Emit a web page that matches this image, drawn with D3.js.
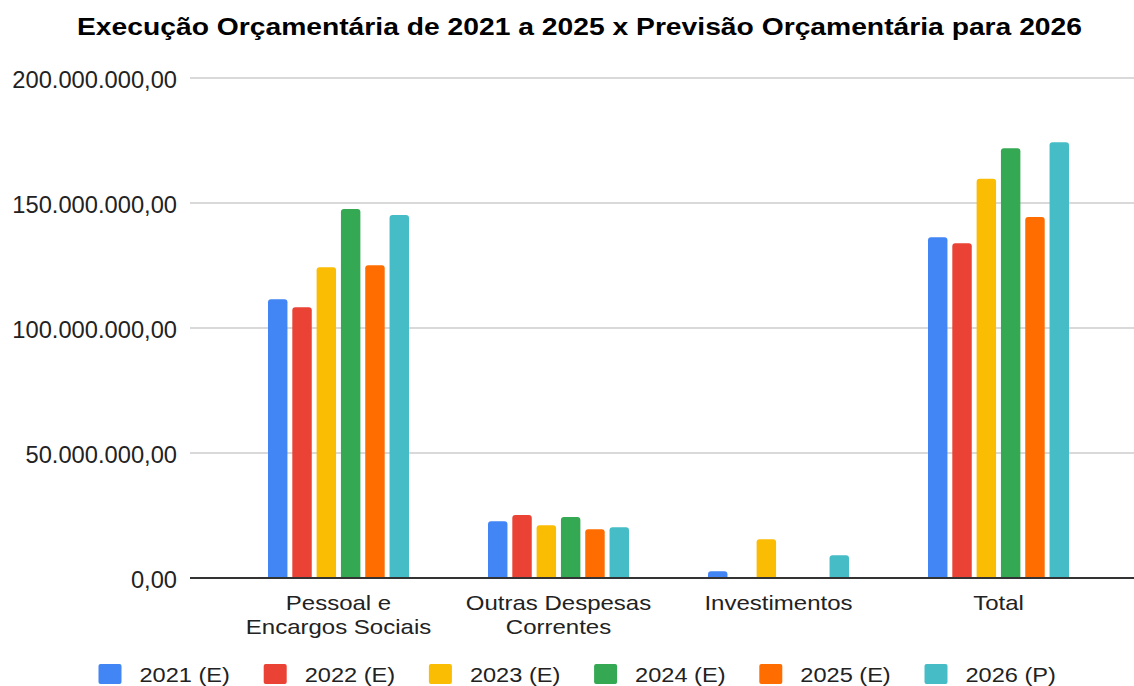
<!DOCTYPE html>
<html><head><meta charset="utf-8">
<script src="https://cdn.jsdelivr.net/npm/d3@7"></script>
<style>body{margin:0;background:#fff}svg{display:block;font-family:"Liberation Sans",Arial,sans-serif}</style>
</head><body><svg id="c" width="1134" height="686"></svg>
<script>
const categories = [["Pessoal e","Encargos Sociais"],["Outras Despesas","Correntes"],["Investimentos"],["Total"]];
const series = ["2021 (E)","2022 (E)","2023 (E)","2024 (E)","2025 (E)","2026 (P)"];
const colors = ["#4285F4","#EA4335","#FBBC04","#34A853","#FF6D01","#46BDC6"];
const v2021 = [111.5e6, 22.7e6, 2.7e6, 136.3e6];
const v2022 = [108.3e6, 25.2e6, 0, 133.9e6];
const v2023 = [124.3e6, 21.1e6, 15.5e6, 159.7e6];
const v2024 = [147.6e6, 24.4e6, 0, 171.9e6];
const v2025 = [125.1e6, 19.5e6, 0, 144.4e6];
const v2026 = [145.2e6, 20.3e6, 9.1e6, 174.3e6];
const values = [v2021,v2022,v2023,v2024,v2025,v2026];
const yTicks = [0,50e6,100e6,150e6,200e6];

const svg = d3.select("#c");
const y = d3.scaleLinear().domain([0,200e6]).range([578,78]);
const x0 = d3.scaleBand().domain(d3.range(categories.length)).range([228.5,1108.5]).padding(0);
const x1 = d3.scaleBand().domain(d3.range(series.length)).range([39.5,180.5]).paddingInner(0.2).paddingOuter(0);
const fmt = v => d3.format(",.2f")(v).replace(/,/g,"#").replace(".",",").replace(/#/g,".");

svg.append("text").attr("x",579.5).attr("y",34.5).attr("text-anchor","middle")
  .attr("font-weight","bold").attr("font-size",23).attr("fill","#000")
  .attr("textLength",1005).attr("lengthAdjust","spacingAndGlyphs")
  .text("Execução Orçamentária de 2021 a 2025 x Previsão Orçamentária para 2026");

const g = svg.append("g");
yTicks.forEach(t=>{
  if(t>0) g.append("line").attr("x1",190).attr("x2",1134).attr("y1",y(t)).attr("y2",y(t)).attr("stroke","#ccc").attr("stroke-width",1.5);
  g.append("text").attr("x",177).attr("y",y(t)+9.5).attr("text-anchor","end").attr("font-size",23.7).attr("fill","#222").text(fmt(t));
});

function barPath(x,yt,w,h,r){
  if(h<=0) return "";
  r=Math.min(r,h,w/2);
  const yb=yt+h;
  return `M${x},${yb}V${yt+r}Q${x},${yt} ${x+r},${yt}H${x+w-r}Q${x+w},${yt} ${x+w},${yt+r}V${yb}Z`;
}
values.forEach((arr,si)=>{
  g.selectAll(null).data(arr).enter().append("path")
    .attr("fill",colors[si])
    .attr("d",(d,ci)=>barPath(x0(ci)+x1(si), y(d), x1.bandwidth(), y(0)-y(d), 3));
});
g.append("line").attr("x1",190).attr("x2",1134).attr("y1",y(0)).attr("y2",y(0)).attr("stroke","#333").attr("stroke-width",2);

categories.forEach((lines,ci)=>{
  const cx = x0(ci)+x0.bandwidth()/2;
  lines.forEach((l,li)=>{
    const t = svg.append("text").attr("x",cx).attr("y",609.5+li*24).attr("text-anchor","middle").attr("font-size",24).attr("fill","#222").text(l);
    const w = t.node().getComputedTextLength();
    t.attr("font-size",21).attr("textLength",w).attr("lengthAdjust","spacingAndGlyphs");
  });
});

const lg = svg.append("g");
series.forEach((s,i)=>{
  const lx = 98.5 + i*165.2;
  lg.append("rect").attr("x",lx).attr("y",664).attr("width",23).attr("height",20).attr("rx",2).attr("fill",colors[i]);
  const t = lg.append("text").attr("x",lx+41).attr("y",681.7).attr("font-size",20.5).attr("fill","#222").text(s);
  const w = t.node().getComputedTextLength();
  t.attr("textLength", w*1.15).attr("lengthAdjust","spacingAndGlyphs");
});
</script></body></html>
